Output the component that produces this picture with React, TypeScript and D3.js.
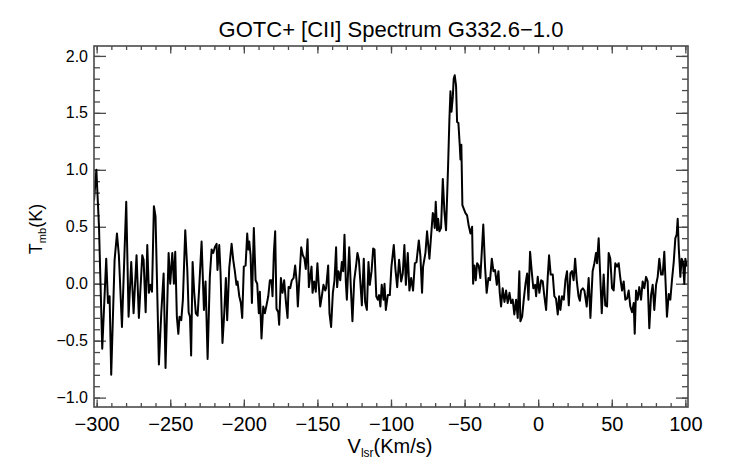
import { useEffect, useRef } from 'react';
import * as d3 from 'd3';

// GOTC+ [CII] spectrum: velocity (km/s) and T_mb (K)
const VELOCITY = [
  -301.8, -300.2, -298.4, -296.2, -293.5, -292.3, -291.2, -290.1, -287.8, -286.2,
  -284.9, -282.8, -279.9, -278.3, -276.5, -274.9, -272.9, -271.3, -269.0, -268.1,
  -266.7, -265.6, -264.5, -263.6, -262.4, -261.1, -260.0, -257.7, -256.1, -254.5,
  -253.2, -251.1, -250.0, -248.6, -247.5, -246.6, -245.5, -244.5, -243.7, -242.5,
  -241.4, -239.8, -238.4, -237.5, -236.6, -235.8, -234.8, -233.7, -232.6, -231.4,
  -230.3, -228.7, -227.1, -226.0, -224.6, -223.1, -221.9, -220.8, -219.7, -218.5,
  -217.9, -216.7, -215.8, -214.5, -213.3, -212.2, -211.3, -209.9, -208.3, -207.2,
  -206.1, -205.0, -204.3, -203.1, -202.0, -201.1, -200.0, -198.8, -197.7, -197.0,
  -196.3, -195.4, -194.5, -193.2, -192.0, -190.9, -189.8, -189.1, -188.0, -186.8,
  -185.7, -184.6, -183.4, -182.3, -181.2, -180.5, -179.6, -178.7, -177.8, -176.6,
  -176.0, -174.8, -173.7, -172.6, -171.4, -170.3, -169.6, -168.5, -167.4, -166.2,
  -165.1, -164.0, -163.3, -162.2, -161.0, -159.9, -158.8, -157.9, -156.7, -155.8,
  -154.9, -154.0, -153.3, -152.2, -151.1, -150.0, -149.3, -148.1, -147.0, -145.9,
  -144.7, -144.1, -142.7, -141.8, -140.7, -139.5, -138.4, -137.3, -136.6, -135.7,
  -134.5, -133.4, -132.5, -131.6, -130.7, -130.0, -128.4, -127.3, -126.2, -125.0,
  -123.7, -122.8, -121.8, -120.9, -119.8, -118.5, -117.6, -116.4, -115.3, -114.4,
  -113.2, -112.1, -111.2, -110.0, -109.0, -108.1, -107.2, -106.3, -105.1, -104.4,
  -103.5, -102.2, -100.8, -99.7, -98.1, -97.0, -95.8, -94.5, -93.1, -92.0,
  -90.9, -89.9, -88.6, -87.5, -86.3, -85.0, -83.8, -82.7, -81.1, -80.0,
  -78.9, -78.2, -76.6, -75.5, -73.9, -72.7, -71.6, -70.9, -70.3, -69.6,
  -68.7, -68.0, -67.1, -66.0, -64.8, -63.7, -62.6, -61.2, -60.3, -59.6,
  -58.9, -58.0, -57.4, -56.7, -55.8, -55.1, -54.2, -53.3, -52.8, -52.2,
  -51.5, -50.6, -49.4, -48.3, -47.2, -46.0, -44.9, -44.2, -43.3, -42.4,
  -41.5, -40.4, -39.3, -37.3, -36.1, -35.0, -33.8, -32.7, -31.5, -30.4,
  -29.3, -28.1, -27.0, -26.1, -25.2, -24.1, -22.9, -21.8, -20.7, -19.5,
  -18.4, -17.3, -16.2, -15.0, -13.9, -12.8, -12.1, -10.9, -9.8, -8.6,
  -7.5, -6.6, -5.5, -4.4, -3.3, -2.1, -1.4, -0.3, 0.8, 2.0,
  3.1, 4.2, 5.4, 6.5, 7.4, 8.5, 9.9, 11.0, 12.1, 13.3,
  14.2, 15.1, 16.2, 17.4, 18.5, 19.6, 20.8, 21.9, 23.0, 24.1,
  25.1, 26.2, 27.4, 28.3, 29.1, 30.3, 31.4, 33.0, 34.3, 35.5,
  37.0, 38.2, 39.3, 40.0, 41.1, 42.0, 43.2, 44.5, 45.6, 46.8,
  47.9, 49.0, 50.2, 51.3, 52.4, 53.6, 54.7, 55.8, 57.0, 58.1,
  59.2, 60.4, 61.5, 62.6, 63.8, 64.9, 65.6, 66.5, 67.6, 68.7,
  69.9, 71.0, 72.1, 73.3, 74.4, 75.5, 76.7, 77.8, 78.9, 80.1,
  81.2, 82.3, 83.5, 84.6, 85.7, 86.6, 87.5, 88.7, 89.8, 90.9,
  92.1, 93.2, 94.1, 94.8, 95.5, 96.6, 97.5, 98.4, 99.3, 100.0,
  100.9,
];

const TMB = [
  0.73, 1.00, 0.50, -0.57, 0.22, -0.17, -0.11, -0.80, 0.21, 0.44,
  0.25, -0.38, 0.72, -0.29, 0.19, -0.26, 0.25, -0.30, 0.25, 0.21,
  -0.25, 0.34, -0.08, -0.01, -0.07, 0.68, 0.59, -0.71, -0.26, 0.09,
  -0.74, 0.27, 0.00, 0.27, 0.00, 0.28, -0.29, -0.44, -0.29, -0.32,
  -0.14, 0.47, 0.12, -0.25, -0.29, -0.63, 0.19, -0.08, -0.26, -0.28,
  -0.03, 0.37, -0.23, 0.02, -0.66, 0.06, 0.30, 0.27, 0.32, 0.35,
  0.12, 0.34, 0.09, -0.52, -0.26, 0.05, -0.32, 0.14, 0.35, 0.21,
  0.11, -0.01, 0.02, -0.11, -0.17, -0.30, 0.15, 0.16, 0.44, 0.30,
  0.37, 0.25, -0.17, 0.49, 0.03, 0.00, -0.26, -0.07, -0.48, -0.20,
  -0.26, -0.19, -0.11, 0.03, 0.03, -0.11, 0.27, 0.46, -0.22, -0.25,
  -0.36, 0.05, -0.08, 0.03, -0.16, -0.30, -0.03, -0.04, 0.03, 0.05,
  0.16, 0.00, -0.20, 0.06, 0.32, 0.25, 0.22, 0.13, 0.39, -0.03,
  0.06, 0.15, -0.08, 0.02, -0.07, 0.18, 0.03, -0.20, -0.11, -0.01,
  -0.06, -0.04, 0.16, -0.26, -0.38, -0.08, 0.03, 0.32, -0.03, 0.11,
  0.03, 0.19, 0.11, 0.43, 0.02, -0.14, 0.32, -0.03, -0.33, 0.03,
  0.16, 0.27, 0.21, 0.03, -0.19, 0.22, -0.16, -0.23, 0.19, -0.01,
  0.11, 0.31, 0.30, -0.11, -0.14, -0.10, -0.20, -0.01, -0.14, 0.00,
  -0.23, -0.10, -0.10, 0.15, 0.34, 0.13, -0.03, 0.21, 0.02, 0.09,
  0.34, -0.01, 0.27, -0.06, 0.05, -0.06, 0.18, 0.19, 0.38, 0.24,
  -0.08, 0.15, 0.27, 0.46, 0.22, 0.43, 0.62, 0.60, 0.49, 0.72,
  0.47, 0.57, 0.46, 0.49, 0.92, 0.63, 0.47, 1.04, 1.45, 1.69,
  1.51, 1.64, 1.80, 1.83, 1.74, 1.42, 1.41, 1.22, 1.09, 1.22,
  0.69, 0.66, 0.62, 0.60, 0.51, 0.44, 0.50, 0.00, 0.16, 0.03,
  0.18, 0.16, 0.05, 0.52, 0.15, -0.08, 0.05, 0.03, 0.22, 0.11,
  0.12, -0.01, 0.11, -0.08, -0.20, -0.04, -0.16, -0.06, -0.17, -0.08,
  -0.17, -0.14, -0.27, -0.14, -0.30, 0.11, -0.33, -0.29, -0.14, 0.00,
  0.09, -0.14, 0.28, 0.11, -0.04, -0.01, -0.11, 0.06, -0.08, 0.03,
  0.02, -0.11, -0.23, 0.06, 0.25, 0.08, 0.08, -0.11, -0.13, -0.27,
  -0.11, -0.23, -0.11, -0.14, 0.03, 0.11, -0.19, 0.09, 0.11, 0.03,
  0.22, 0.03, -0.11, -0.15, -0.06, -0.04, -0.06, -0.20, 0.05, -0.30,
  0.11, 0.18, 0.27, 0.18, 0.40, 0.12, -0.26, 0.08, -0.19, -0.20,
  0.27, 0.22, -0.04, -0.06, 0.18, 0.15, 0.18, 0.05, -0.06, 0.02,
  -0.14, -0.13, -0.06, -0.20, -0.25, -0.17, -0.44, -0.06, -0.14, -0.03,
  -0.14, 0.02, -0.04, 0.06, 0.02, -0.39, -0.10, -0.01, -0.23, -0.01,
  0.06, 0.22, 0.08, 0.08, 0.28, 0.00, -0.29, -0.09, -0.14, 0.03,
  0.19, 0.40, 0.43, 0.57, 0.32, 0.06, 0.22, 0.19, 0.00, 0.22,
  0.15,
];

const X_TICKS = [-300, -250, -200, -150, -100, -50, 0, 50, 100];
const Y_TICKS = [-1.0, -0.5, 0.0, 0.5, 1.0, 1.5, 2.0];
const X_DOMAIN = [-301.8, 101.8];
const Y_DOMAIN = [-1.0825, 2.087];

const W = 742;
const H = 464;
const M = { left: 94, right: 54, top: 46, bottom: 57 };
const FRAME = '#4a4a4a';
const FONT = '"Liberation Sans", Arial, Helvetica, sans-serif';

export default function App() {
  const svgRef = useRef<SVGSVGElement>(null);

  useEffect(() => {
    if (!svgRef.current) return;
    const svg = d3.select(svgRef.current);
    svg.selectAll('*').remove();

    const x0 = M.left, x1 = W - M.right;
    const y0 = H - M.bottom, y1 = M.top;

    const x = d3.scaleLinear().domain(X_DOMAIN).range([x0, x1]);
    const y = d3.scaleLinear().domain(Y_DOMAIN).range([y0, y1]);

    const minorX = d3.range(-300, 101, 10);
    const minorY = d3.range(-10, 21, 1).map(d => d / 10);

    // ── Axes, IDL style: inward ticks on all four sides ───
    const styleAxis = (g: d3.Selection<SVGGElement, unknown, null, undefined>) => {
      g.select('.domain').remove();
      g.selectAll('.tick line').attr('stroke', FRAME).attr('stroke-width', 1.3);
    };

    const bottom = svg.append('g').attr('transform', `translate(0,${y0})`);
    bottom.append('g').call(d3.axisBottom(x).tickValues(minorX).tickSize(-4).tickFormat(() => '')).call(styleAxis);
    bottom.append('g')
      .call(d3.axisBottom(x).tickValues(X_TICKS).tickSize(-7.5).tickPadding(10).tickFormat(d3.format('d')))
      .call(styleAxis)
      .call(g => g.selectAll('text').attr('fill', '#000').attr('font-size', 20).attr('font-family', FONT));

    const top = svg.append('g').attr('transform', `translate(0,${y1})`);
    top.append('g').call(d3.axisTop(x).tickValues(minorX).tickSize(-4).tickFormat(() => '')).call(styleAxis);
    top.append('g').call(d3.axisTop(x).tickValues(X_TICKS).tickSize(-7.5).tickFormat(() => '')).call(styleAxis);

    const left = svg.append('g').attr('transform', `translate(${x0},0)`);
    left.append('g').call(d3.axisLeft(y).tickValues(minorY).tickSize(-6).tickFormat(() => '')).call(styleAxis);
    left.append('g')
      .call(d3.axisLeft(y).tickValues(Y_TICKS).tickSize(-12).tickPadding(6).tickFormat(d3.format('.1f')))
      .call(styleAxis)
      .call(g => g.selectAll('text').attr('fill', '#000').attr('font-size', 16).attr('font-family', FONT));

    const right = svg.append('g').attr('transform', `translate(${x1},0)`);
    right.append('g').call(d3.axisRight(y).tickValues(minorY).tickSize(-6).tickFormat(() => '')).call(styleAxis);
    right.append('g').call(d3.axisRight(y).tickValues(Y_TICKS).tickSize(-12).tickFormat(() => '')).call(styleAxis);

    // ── Spectrum ──────────────────────────────────────────
    svg.append('clipPath').attr('id', 'plot-clip')
      .append('rect').attr('x', x0).attr('y', y1).attr('width', x1 - x0).attr('height', y0 - y1);

    const line = d3.line<number>()
      .x((_, i) => x(VELOCITY[i]))
      .y(d => y(d));

    svg.append('path')
      .datum(TMB)
      .attr('clip-path', 'url(#plot-clip)')
      .attr('d', line)
      .attr('fill', 'none')
      .attr('stroke', '#000')
      .attr('stroke-width', 2)
      .attr('stroke-linejoin', 'round');

    // ── Frame ─────────────────────────────────────────────
    svg.append('rect')
      .attr('x', x0).attr('y', y1)
      .attr('width', x1 - x0).attr('height', y0 - y1)
      .attr('fill', 'none').attr('stroke', FRAME).attr('stroke-width', 1.6);

    // ── Titles ────────────────────────────────────────────
    svg.append('text')
      .attr('x', (x0 + x1) / 2).attr('y', 37)
      .attr('text-anchor', 'middle').attr('font-size', 22).attr('font-family', FONT)
      .text('GOTC+ [CII] Spectrum G332.6\u22121.0');

    const xl = svg.append('text')
      .attr('x', (x0 + x1) / 2 - 1).attr('y', 453)
      .attr('text-anchor', 'middle').attr('font-size', 20).attr('font-family', FONT);
    xl.append('tspan').text('V');
    xl.append('tspan').attr('font-size', 12).attr('dy', 4).text('lsr');
    xl.append('tspan').attr('dy', -4).text('(Km/s)');

    const yl = svg.append('text')
      .attr('transform', 'translate(41.5,229) rotate(-90)')
      .attr('text-anchor', 'middle').attr('font-size', 18).attr('font-family', FONT);
    yl.append('tspan').text('T');
    yl.append('tspan').attr('font-size', 11).attr('dy', 4).text('mb');
    yl.append('tspan').attr('dy', -4).text('(K)');
  }, []);

  return (
    <div style={{ position: 'absolute', left: 0, top: 0, width: W, height: H, background: '#fff' }}>
      <svg ref={svgRef} width={W} height={H} style={{ display: 'block' }} />
    </div>
  );
}
